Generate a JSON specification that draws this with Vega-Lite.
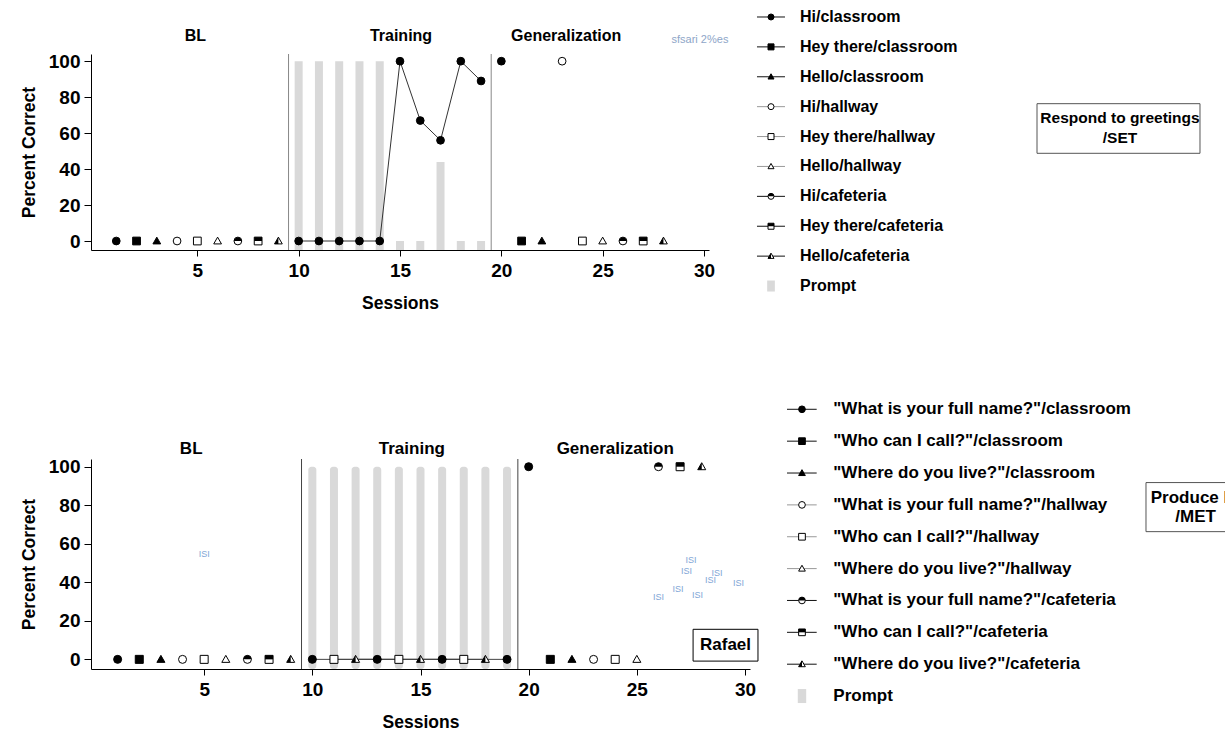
{
  "$schema": "https://vega.github.io/schema/vega-lite/v6.json",
  "padding": {"left": 20, "top": 8, "right": 0, "bottom": 0},
  "config": {
    "font": "Liberation Sans",
    "view": {"stroke": null},
    "axis": {
      "grid": false,
      "domainColor": "#000",
      "tickColor": "#000",
      "labelColor": "#000",
      "titleColor": "#000",
      "labelFontWeight": "bold",
      "titleFontWeight": "bold",
      "labelFont": "Liberation Sans",
      "titleFont": "Liberation Sans",
      "labelOverlap": false
    },
    "text": {"fontWeight": "bold", "color": "#000", "font": "Liberation Sans"}
  },
  "datasets": {
    "greet": [
      {"session": 1, "pct": 0, "target": "Hi", "setting": "classroom", "phase": "BL"},
      {"session": 2, "pct": 0, "target": "Hey there", "setting": "classroom", "phase": "BL"},
      {"session": 3, "pct": 0, "target": "Hello", "setting": "classroom", "phase": "BL"},
      {"session": 4, "pct": 0, "target": "Hi", "setting": "hallway", "phase": "BL"},
      {"session": 5, "pct": 0, "target": "Hey there", "setting": "hallway", "phase": "BL"},
      {"session": 6, "pct": 0, "target": "Hello", "setting": "hallway", "phase": "BL"},
      {"session": 7, "pct": 0, "target": "Hi", "setting": "cafeteria", "phase": "BL"},
      {"session": 8, "pct": 0, "target": "Hey there", "setting": "cafeteria", "phase": "BL"},
      {"session": 9, "pct": 0, "target": "Hello", "setting": "cafeteria", "phase": "BL"},
      {"session": 10, "pct": 0, "target": "Hi", "setting": "classroom", "phase": "Training"},
      {"session": 11, "pct": 0, "target": "Hi", "setting": "classroom", "phase": "Training"},
      {"session": 12, "pct": 0, "target": "Hi", "setting": "classroom", "phase": "Training"},
      {"session": 13, "pct": 0, "target": "Hi", "setting": "classroom", "phase": "Training"},
      {"session": 14, "pct": 0, "target": "Hi", "setting": "classroom", "phase": "Training"},
      {"session": 15, "pct": 100, "target": "Hi", "setting": "classroom", "phase": "Training"},
      {"session": 16, "pct": 67, "target": "Hi", "setting": "classroom", "phase": "Training"},
      {"session": 17, "pct": 56, "target": "Hi", "setting": "classroom", "phase": "Training"},
      {"session": 18, "pct": 100, "target": "Hi", "setting": "classroom", "phase": "Training"},
      {"session": 19, "pct": 89, "target": "Hi", "setting": "classroom", "phase": "Training"},
      {"session": 20, "pct": 100, "target": "Hi", "setting": "classroom", "phase": "Generalization"},
      {"session": 21, "pct": 0, "target": "Hey there", "setting": "classroom", "phase": "Generalization"},
      {"session": 22, "pct": 0, "target": "Hello", "setting": "classroom", "phase": "Generalization"},
      {"session": 23, "pct": 100, "target": "Hi", "setting": "hallway", "phase": "Generalization"},
      {"session": 24, "pct": 0, "target": "Hey there", "setting": "hallway", "phase": "Generalization"},
      {"session": 25, "pct": 0, "target": "Hello", "setting": "hallway", "phase": "Generalization"},
      {"session": 26, "pct": 0, "target": "Hi", "setting": "cafeteria", "phase": "Generalization"},
      {"session": 27, "pct": 0, "target": "Hey there", "setting": "cafeteria", "phase": "Generalization"},
      {"session": 28, "pct": 0, "target": "Hello", "setting": "cafeteria", "phase": "Generalization"}
    ],
    "greetPrompt": [
      {"session": 10, "pct": 100}, {"session": 11, "pct": 100}, {"session": 12, "pct": 100},
      {"session": 13, "pct": 100}, {"session": 14, "pct": 100}, {"session": 15, "pct": 0},
      {"session": 16, "pct": 0}, {"session": 17, "pct": 44}, {"session": 18, "pct": 0},
      {"session": 19, "pct": 0}
    ],
    "greetPhases": [
      {"phase": "BL", "mid": 4.9},
      {"phase": "Training", "mid": 15.05},
      {"phase": "Generalization", "mid": 23.2}
    ],
    "greetKey": [
      {"row": 1, "target": "Hi", "setting": "classroom", "label": "Hi/classroom"},
      {"row": 2, "target": "Hey there", "setting": "classroom", "label": "Hey there/classroom"},
      {"row": 3, "target": "Hello", "setting": "classroom", "label": "Hello/classroom"},
      {"row": 4, "target": "Hi", "setting": "hallway", "label": "Hi/hallway"},
      {"row": 5, "target": "Hey there", "setting": "hallway", "label": "Hey there/hallway"},
      {"row": 6, "target": "Hello", "setting": "hallway", "label": "Hello/hallway"},
      {"row": 7, "target": "Hi", "setting": "cafeteria", "label": "Hi/cafeteria"},
      {"row": 8, "target": "Hey there", "setting": "cafeteria", "label": "Hey there/cafeteria"},
      {"row": 9, "target": "Hello", "setting": "cafeteria", "label": "Hello/cafeteria"},
      {"row": 10, "label": "Prompt"}
    ],
    "id": [
      {"session": 1, "pct": 0, "target": "\"What is your full name?\"", "setting": "classroom", "phase": "BL"},
      {"session": 2, "pct": 0, "target": "\"Who can I call?\"", "setting": "classroom", "phase": "BL"},
      {"session": 3, "pct": 0, "target": "\"Where do you live?\"", "setting": "classroom", "phase": "BL"},
      {"session": 4, "pct": 0, "target": "\"What is your full name?\"", "setting": "hallway", "phase": "BL"},
      {"session": 5, "pct": 0, "target": "\"Who can I call?\"", "setting": "hallway", "phase": "BL"},
      {"session": 6, "pct": 0, "target": "\"Where do you live?\"", "setting": "hallway", "phase": "BL"},
      {"session": 7, "pct": 0, "target": "\"What is your full name?\"", "setting": "cafeteria", "phase": "BL"},
      {"session": 8, "pct": 0, "target": "\"Who can I call?\"", "setting": "cafeteria", "phase": "BL"},
      {"session": 9, "pct": 0, "target": "\"Where do you live?\"", "setting": "cafeteria", "phase": "BL"},
      {"session": 10, "pct": 0, "target": "\"What is your full name?\"", "setting": "classroom", "phase": "Training"},
      {"session": 11, "pct": 0, "target": "\"Who can I call?\"", "setting": "hallway", "phase": "Training"},
      {"session": 12, "pct": 0, "target": "\"Where do you live?\"", "setting": "cafeteria", "phase": "Training"},
      {"session": 13, "pct": 0, "target": "\"What is your full name?\"", "setting": "classroom", "phase": "Training"},
      {"session": 14, "pct": 0, "target": "\"Who can I call?\"", "setting": "hallway", "phase": "Training"},
      {"session": 15, "pct": 0, "target": "\"Where do you live?\"", "setting": "cafeteria", "phase": "Training"},
      {"session": 16, "pct": 0, "target": "\"What is your full name?\"", "setting": "classroom", "phase": "Training"},
      {"session": 17, "pct": 0, "target": "\"Who can I call?\"", "setting": "hallway", "phase": "Training"},
      {"session": 18, "pct": 0, "target": "\"Where do you live?\"", "setting": "cafeteria", "phase": "Training"},
      {"session": 19, "pct": 0, "target": "\"What is your full name?\"", "setting": "classroom", "phase": "Training"},
      {"session": 20, "pct": 100, "target": "\"What is your full name?\"", "setting": "classroom", "phase": "Generalization"},
      {"session": 21, "pct": 0, "target": "\"Who can I call?\"", "setting": "classroom", "phase": "Generalization"},
      {"session": 22, "pct": 0, "target": "\"Where do you live?\"", "setting": "classroom", "phase": "Generalization"},
      {"session": 23, "pct": 0, "target": "\"What is your full name?\"", "setting": "hallway", "phase": "Generalization"},
      {"session": 24, "pct": 0, "target": "\"Who can I call?\"", "setting": "hallway", "phase": "Generalization"},
      {"session": 25, "pct": 0, "target": "\"Where do you live?\"", "setting": "hallway", "phase": "Generalization"},
      {"session": 26, "pct": 100, "target": "\"What is your full name?\"", "setting": "cafeteria", "phase": "Generalization"},
      {"session": 27, "pct": 100, "target": "\"Who can I call?\"", "setting": "cafeteria", "phase": "Generalization"},
      {"session": 28, "pct": 100, "target": "\"Where do you live?\"", "setting": "cafeteria", "phase": "Generalization"}
    ],
    "idPrompt": [
      {"session": 10, "pct": 100}, {"session": 11, "pct": 100}, {"session": 12, "pct": 100},
      {"session": 13, "pct": 100}, {"session": 14, "pct": 100}, {"session": 15, "pct": 100},
      {"session": 16, "pct": 100}, {"session": 17, "pct": 100}, {"session": 18, "pct": 100},
      {"session": 19, "pct": 100}
    ],
    "idPhases": [
      {"phase": "BL", "mid": 4.4},
      {"phase": "Training", "mid": 14.6},
      {"phase": "Generalization", "mid": 24.0}
    ],
    "idNotes": [
      {"session": 5.0, "pct": 54.6, "note": "ISI"},
      {"session": 27.5, "pct": 51.5, "note": "ISI"},
      {"session": 27.3, "pct": 46.0, "note": "ISI"},
      {"session": 28.7, "pct": 45.0, "note": "ISI"},
      {"session": 28.4, "pct": 41.3, "note": "ISI"},
      {"session": 29.7, "pct": 39.6, "note": "ISI"},
      {"session": 26.9, "pct": 36.5, "note": "ISI"},
      {"session": 27.8, "pct": 33.4, "note": "ISI"},
      {"session": 26.0, "pct": 32.3, "note": "ISI"}
    ],
    "idKey": [
      {"row": 1, "target": "\"What is your full name?\"", "setting": "classroom", "label": "\"What is your full name?\"/classroom"},
      {"row": 2, "target": "\"Who can I call?\"", "setting": "classroom", "label": "\"Who can I call?\"/classroom"},
      {"row": 3, "target": "\"Where do you live?\"", "setting": "classroom", "label": "\"Where do you live?\"/classroom"},
      {"row": 4, "target": "\"What is your full name?\"", "setting": "hallway", "label": "\"What is your full name?\"/hallway"},
      {"row": 5, "target": "\"Who can I call?\"", "setting": "hallway", "label": "\"Who can I call?\"/hallway"},
      {"row": 6, "target": "\"Where do you live?\"", "setting": "hallway", "label": "\"Where do you live?\"/hallway"},
      {"row": 7, "target": "\"What is your full name?\"", "setting": "cafeteria", "label": "\"What is your full name?\"/cafeteria"},
      {"row": 8, "target": "\"Who can I call?\"", "setting": "cafeteria", "label": "\"Who can I call?\"/cafeteria"},
      {"row": 9, "target": "\"Where do you live?\"", "setting": "cafeteria", "label": "\"Where do you live?\"/cafeteria"},
      {"row": 10, "label": "Prompt"}
    ]
  },
  "columns": 2,
  "align": "none",
  "bounds": "flush",
  "spacing": {"row": 209, "column": 37},
  "concat": [
    {
      "width": 618,
      "height": 196,
      "resolve": {"scale": {"shape": "independent"}},
      "layer": [
        {
          "data": {"name": "greetPrompt"},
          "mark": {"type": "bar", "width": 8, "color": "#d9d9d9"},
          "encoding": {
            "x": {
              "field": "session", "type": "quantitative",
              "scale": {"domain": [0, 30], "nice": false, "zero": false},
              "axis": {"values": [5, 10, 15, 20, 25, 30], "tickCount": 12, "title": "Sessions", "labelFontSize": 19, "titleFontSize": 17.5, "tickSize": 6, "labelPadding": 5, "titlePadding": 14, "labelFlush": false, "labelOverlap": false}
            },
            "y": {
              "field": "pct", "type": "quantitative",
              "scale": {"domain": [-5, 104], "nice": false, "zero": false},
              "axis": {"values": [0, 20, 40, 60, 80, 100], "tickCount": 12, "title": "Percent Correct", "labelFontSize": 19, "titleFontSize": 17.5, "tickSize": 7, "labelPadding": 4, "titlePadding": 10, "labelOverlap": false}
            },
            "y2": {"datum": -5}
          }
        },
        {
          "data": {"values": [{"change": 9.5}, {"change": 19.5}]},
          "mark": {"type": "rule", "color": "#888", "strokeWidth": 1},
          "encoding": {"x": {"field": "change", "type": "quantitative"}, "y": {"datum": -5}, "y2": {"datum": 104}}
        },
        {
          "data": {"name": "greet"},
          "transform": [{"filter": {"field": "phase", "equal": "Training"}}],
          "mark": {"type": "line", "color": "#333", "strokeWidth": 1},
          "encoding": {
            "x": {"field": "session", "type": "quantitative"},
            "y": {"field": "pct", "type": "quantitative"},
            "detail": [{"field": "target", "type": "nominal"}, {"field": "setting", "type": "nominal"}]
          }
        },
        {
          "data": {"name": "greet"},
          "mark": {"type": "point", "opacity": 1, "size": 60, "strokeWidth": 1, "stroke": "#000"},
          "encoding": {
            "x": {"field": "session", "type": "quantitative"},
            "y": {"field": "pct", "type": "quantitative"},
            "shape": {"field": "target", "type": "nominal", "legend": null,
              "scale": {"domain": ["Hi", "Hey there", "Hello", "\"What is your full name?\"", "\"Who can I call?\"", "\"Where do you live?\""],
                        "range": ["circle", "square", "M0,-1L1,0.75L-1,0.75Z", "circle", "square", "M0,-1L1,0.75L-1,0.75Z"]}},
            "fill": {"field": "setting", "type": "nominal", "legend": null,
              "scale": {"domain": ["classroom", "hallway", "cafeteria"], "range": ["#000", "#fff", "#fff"]}}
          }
        },
        {
          "data": {"name": "greet"},
          "transform": [{"filter": {"field": "setting", "equal": "cafeteria"}}],
          "mark": {"type": "point", "filled": true, "opacity": 1, "size": 60, "strokeWidth": 0, "color": "#000"},
          "encoding": {
            "x": {"field": "session", "type": "quantitative"},
            "y": {"field": "pct", "type": "quantitative"},
            "shape": {"field": "target", "type": "nominal", "legend": null,
              "scale": {"domain": ["Hi", "Hey there", "Hello", "\"What is your full name?\"", "\"Who can I call?\"", "\"Where do you live?\""],
                        "range": ["M-1,0A1,1,0,0,1,1,0Z", "M-1,-1L1,-1L1,0L-1,0Z", "M0,-1L0,0.75L-1,0.75Z", "M-1,0A1,1,0,0,1,1,0Z", "M-1,-1L1,-1L1,0L-1,0Z", "M0,-1L0,0.75L-1,0.75Z"]}}
          }
        },
        {
          "data": {"name": "greetPhases"},
          "mark": {"type": "text", "fontSize": 16, "baseline": "middle"},
          "encoding": {"x": {"field": "mid", "type": "quantitative"}, "y": {"datum": 114}, "text": {"field": "phase"}}
        },
        {
          "data": {"values": [{"note": "sfsari 2%es"}]},
          "mark": {"type": "text", "fontSize": 11, "fontWeight": "normal", "color": "#8ea6c8", "baseline": "middle"},
          "encoding": {"x": {"datum": 29.8}, "y": {"datum": 112}, "text": {"field": "note"}}
        }
      ]
    },
    {
      "width": 438,
      "height": 196,
      "data": {"name": "greetKey"},
      "resolve": {"scale": {"shape": "independent"}},
      "layer": [
        {
          "transform": [{"filter": "isValid(datum.setting)"}],
          "mark": {"type": "rule", "strokeWidth": 1},
          "encoding": {
            "x": {"datum": -6.85, "type": "quantitative", "scale": {"domain": [0, 100], "nice": false, "zero": false}, "axis": null},
            "x2": {"datum": -0.46},
            "y": {"field": "row", "type": "quantitative", "scale": {"domain": [2.238, 8.795], "reverse": true, "nice": false, "zero": false}, "axis": null},
            "stroke": {"field": "setting", "type": "nominal", "legend": null,
              "scale": {"domain": ["classroom", "hallway", "cafeteria"], "range": ["#111", "#999", "#111"]}}
          }
        },
        {
          "transform": [{"filter": "isValid(datum.setting)"}],
          "mark": {"type": "point", "opacity": 1, "size": 36, "strokeWidth": 1, "stroke": "#000"},
          "encoding": {
            "x": {"datum": -3.65, "type": "quantitative", "axis": null},
            "y": {"field": "row", "type": "quantitative", "axis": null},
            "shape": {"field": "target", "type": "nominal", "legend": null,
              "scale": {"domain": ["Hi", "Hey there", "Hello", "\"What is your full name?\"", "\"Who can I call?\"", "\"Where do you live?\""],
                        "range": ["circle", "square", "M0,-1L1,0.75L-1,0.75Z", "circle", "square", "M0,-1L1,0.75L-1,0.75Z"]}},
            "fill": {"field": "setting", "type": "nominal", "legend": null,
              "scale": {"domain": ["classroom", "hallway", "cafeteria"], "range": ["#000", "#fff", "#fff"]}}
          }
        },
        {
          "transform": [{"filter": {"field": "setting", "equal": "cafeteria"}}],
          "mark": {"type": "point", "filled": true, "opacity": 1, "size": 36, "strokeWidth": 0, "color": "#000"},
          "encoding": {
            "x": {"datum": -3.65, "type": "quantitative", "axis": null},
            "y": {"field": "row", "type": "quantitative", "axis": null},
            "shape": {"field": "target", "type": "nominal", "legend": null,
              "scale": {"domain": ["Hi", "Hey there", "Hello", "\"What is your full name?\"", "\"Who can I call?\"", "\"Where do you live?\""],
                        "range": ["M-1,0A1,1,0,0,1,1,0Z", "M-1,-1L1,-1L1,0L-1,0Z", "M0,-1L0,0.75L-1,0.75Z", "M-1,0A1,1,0,0,1,1,0Z", "M-1,-1L1,-1L1,0L-1,0Z", "M0,-1L0,0.75L-1,0.75Z"]}}
          }
        },
        {
          "transform": [{"filter": {"field": "label", "equal": "Prompt"}}],
          "mark": {"type": "point", "shape": "M-0.7,-1L0.7,-1L0.7,1L-0.7,1Z", "filled": true, "opacity": 1, "size": 121, "strokeWidth": 0, "color": "#d9d9d9"},
          "encoding": {
            "x": {"datum": -3.65, "type": "quantitative", "axis": null},
            "y": {"field": "row", "type": "quantitative", "axis": null}
          }
        },
        {
          "mark": {"type": "text", "align": "left", "baseline": "middle", "fontSize": 16},
          "encoding": {
            "x": {"datum": 2.97, "type": "quantitative", "axis": null},
            "y": {"field": "row", "type": "quantitative", "axis": null},
            "text": {"field": "label"}
          }
        },
        {
          "data": {"values": [{"note": "Respond to greetings"}]},
          "mark": {"type": "rect", "fill": "#fff", "stroke": "#555", "strokeWidth": 1},
          "encoding": {
            "x": {"datum": 57.08, "type": "quantitative", "axis": null},
            "x2": {"datum": 94.29},
            "y": {"datum": 3.9, "type": "quantitative", "axis": null},
            "y2": {"datum": 5.56}
          }
        },
        {
          "data": {"values": [{"note": "Respond to greetings"}]},
          "mark": {"type": "text", "align": "center", "baseline": "middle", "fontSize": 15.5, "lineHeight": 20},
          "encoding": {
            "x": {"datum": 76.03, "type": "quantitative", "axis": null},
            "y": {"datum": 4.369, "type": "quantitative", "axis": null},
            "text": {"value": ["Respond to greetings", "/SET"]}
          }
        }
      ]
    },
    {
      "width": 659,
      "height": 210,
      "resolve": {"scale": {"shape": "independent"}},
      "layer": [
        {
          "data": {"name": "idPrompt"},
          "mark": {"type": "bar", "width": 8, "color": "#d9d9d9", "cornerRadius": 3},
          "encoding": {
            "x": {
              "field": "session", "type": "quantitative",
              "scale": {"domain": [0, 30], "nice": false, "zero": false},
              "axis": {"values": [5, 10, 15, 20, 25, 30], "tickCount": 12, "title": "Sessions", "labelFontSize": 19, "titleFontSize": 17.5, "tickSize": 6, "labelPadding": 5, "titlePadding": 14, "labelFlush": false, "labelOverlap": false}
            },
            "y": {
              "field": "pct", "type": "quantitative",
              "scale": {"domain": [-5, 104], "nice": false, "zero": false},
              "axis": {"values": [0, 20, 40, 60, 80, 100], "tickCount": 12, "title": "Percent Correct", "labelFontSize": 19, "titleFontSize": 17.5, "tickSize": 7, "labelPadding": 4, "titlePadding": 10, "labelOverlap": false}
            },
            "y2": {"datum": -5}
          }
        },
        {
          "data": {"values": [{"change": 9.5}, {"change": 19.5}]},
          "mark": {"type": "rule", "color": "#444", "strokeWidth": 1},
          "encoding": {"x": {"field": "change", "type": "quantitative"}, "y": {"datum": -5}, "y2": {"datum": 104}}
        },
        {
          "data": {"name": "id"},
          "transform": [{"filter": {"field": "phase", "equal": "Training"}}],
          "mark": {"type": "line", "color": "#444", "strokeWidth": 1},
          "encoding": {
            "x": {"field": "session", "type": "quantitative"},
            "y": {"field": "pct", "type": "quantitative"},
            "detail": [{"field": "target", "type": "nominal"}, {"field": "setting", "type": "nominal"}]
          }
        },
        {
          "data": {"name": "id"},
          "mark": {"type": "point", "opacity": 1, "size": 64, "strokeWidth": 1, "stroke": "#000"},
          "encoding": {
            "x": {"field": "session", "type": "quantitative"},
            "y": {"field": "pct", "type": "quantitative"},
            "shape": {"field": "target", "type": "nominal", "legend": null,
              "scale": {"domain": ["Hi", "Hey there", "Hello", "\"What is your full name?\"", "\"Who can I call?\"", "\"Where do you live?\""],
                        "range": ["circle", "square", "M0,-1L1,0.75L-1,0.75Z", "circle", "square", "M0,-1L1,0.75L-1,0.75Z"]}},
            "fill": {"field": "setting", "type": "nominal", "legend": null,
              "scale": {"domain": ["classroom", "hallway", "cafeteria"], "range": ["#000", "#fff", "#fff"]}}
          }
        },
        {
          "data": {"name": "id"},
          "transform": [{"filter": {"field": "setting", "equal": "cafeteria"}}],
          "mark": {"type": "point", "filled": true, "opacity": 1, "size": 64, "strokeWidth": 0, "color": "#000"},
          "encoding": {
            "x": {"field": "session", "type": "quantitative"},
            "y": {"field": "pct", "type": "quantitative"},
            "shape": {"field": "target", "type": "nominal", "legend": null,
              "scale": {"domain": ["Hi", "Hey there", "Hello", "\"What is your full name?\"", "\"Who can I call?\"", "\"Where do you live?\""],
                        "range": ["M-1,0A1,1,0,0,1,1,0Z", "M-1,-1L1,-1L1,0L-1,0Z", "M0,-1L0,0.75L-1,0.75Z", "M-1,0A1,1,0,0,1,1,0Z", "M-1,-1L1,-1L1,0L-1,0Z", "M0,-1L0,0.75L-1,0.75Z"]}}
          }
        },
        {
          "data": {"name": "idPhases"},
          "mark": {"type": "text", "fontSize": 17, "baseline": "middle"},
          "encoding": {"x": {"field": "mid", "type": "quantitative"}, "y": {"datum": 109.2}, "text": {"field": "phase"}}
        },
        {
          "data": {"name": "idNotes"},
          "mark": {"type": "text", "fontSize": 9, "fontWeight": "normal", "color": "#7fa6d6", "baseline": "middle"},
          "encoding": {
            "x": {"field": "session", "type": "quantitative"},
            "y": {"field": "pct", "type": "quantitative"},
            "text": {"field": "note"}
          }
        },
        {
          "data": {"values": [{"name": "Rafael"}]},
          "mark": {"type": "rect", "fill": "#fff", "stroke": "#000", "strokeWidth": 1},
          "encoding": {"x": {"datum": 27.6}, "x2": {"datum": 30.6}, "y": {"datum": 15.6}, "y2": {"datum": -0.9}}
        },
        {
          "data": {"values": [{"name": "Rafael"}]},
          "mark": {"type": "text", "fontSize": 17, "baseline": "middle"},
          "encoding": {"x": {"datum": 29.1}, "y": {"datum": 7.3}, "text": {"field": "name"}}
        }
      ]
    },
    {
      "width": 438,
      "height": 210,
      "data": {"name": "idKey"},
      "resolve": {"scale": {"shape": "independent"}},
      "layer": [
        {
          "transform": [{"filter": "isValid(datum.setting)"}],
          "mark": {"type": "rule", "strokeWidth": 1},
          "encoding": {
            "x": {"datum": 0, "type": "quantitative", "scale": {"domain": [0, 100], "nice": false, "zero": false}, "axis": null},
            "x2": {"datum": 6.78},
            "y": {"field": "row", "type": "quantitative", "scale": {"domain": [2.56, 9.151], "reverse": true, "nice": false, "zero": false}, "axis": null},
            "stroke": {"field": "setting", "type": "nominal", "legend": null,
              "scale": {"domain": ["classroom", "hallway", "cafeteria"], "range": ["#111", "#999", "#111"]}}
          }
        },
        {
          "transform": [{"filter": "isValid(datum.setting)"}],
          "mark": {"type": "point", "opacity": 1, "size": 45, "strokeWidth": 1, "stroke": "#000"},
          "encoding": {
            "x": {"datum": 3.42, "type": "quantitative", "axis": null},
            "y": {"field": "row", "type": "quantitative", "axis": null},
            "shape": {"field": "target", "type": "nominal", "legend": null,
              "scale": {"domain": ["Hi", "Hey there", "Hello", "\"What is your full name?\"", "\"Who can I call?\"", "\"Where do you live?\""],
                        "range": ["circle", "square", "M0,-1L1,0.75L-1,0.75Z", "circle", "square", "M0,-1L1,0.75L-1,0.75Z"]}},
            "fill": {"field": "setting", "type": "nominal", "legend": null,
              "scale": {"domain": ["classroom", "hallway", "cafeteria"], "range": ["#000", "#fff", "#fff"]}}
          }
        },
        {
          "transform": [{"filter": {"field": "setting", "equal": "cafeteria"}}],
          "mark": {"type": "point", "filled": true, "opacity": 1, "size": 45, "strokeWidth": 0, "color": "#000"},
          "encoding": {
            "x": {"datum": 3.42, "type": "quantitative", "axis": null},
            "y": {"field": "row", "type": "quantitative", "axis": null},
            "shape": {"field": "target", "type": "nominal", "legend": null,
              "scale": {"domain": ["Hi", "Hey there", "Hello", "\"What is your full name?\"", "\"Who can I call?\"", "\"Where do you live?\""],
                        "range": ["M-1,0A1,1,0,0,1,1,0Z", "M-1,-1L1,-1L1,0L-1,0Z", "M0,-1L0,0.75L-1,0.75Z", "M-1,0A1,1,0,0,1,1,0Z", "M-1,-1L1,-1L1,0L-1,0Z", "M0,-1L0,0.75L-1,0.75Z"]}}
          }
        },
        {
          "transform": [{"filter": {"field": "label", "equal": "Prompt"}}],
          "mark": {"type": "point", "shape": "M-0.6,-1L0.6,-1L0.6,1L-0.6,1Z", "filled": true, "opacity": 1, "size": 196, "strokeWidth": 0, "color": "#d9d9d9"},
          "encoding": {
            "x": {"datum": 3.42, "type": "quantitative", "axis": null},
            "y": {"field": "row", "type": "quantitative", "axis": null}
          }
        },
        {
          "mark": {"type": "text", "align": "left", "baseline": "middle", "fontSize": 17},
          "encoding": {
            "x": {"datum": 10.57, "type": "quantitative", "axis": null},
            "y": {"field": "row", "type": "quantitative", "axis": null},
            "text": {"field": "label"}
          }
        },
        {
          "data": {"values": [{"note": "Produce ID"}]},
          "mark": {"type": "rect", "fill": "#fff", "stroke": "#555", "strokeWidth": 1, "clip": true},
          "encoding": {
            "x": {"datum": 81.96, "type": "quantitative", "axis": null},
            "x2": {"datum": 104.6},
            "y": {"datum": 3.3, "type": "quantitative", "axis": null},
            "y2": {"datum": 4.84}
          }
        },
        {
          "data": {"values": [{"note": "Produce ID"}]},
          "mark": {"type": "text", "align": "center", "baseline": "middle", "fontSize": 17, "lineHeight": 19, "clip": true},
          "encoding": {
            "x": {"datum": 93.3, "type": "quantitative", "axis": null},
            "y": {"datum": 3.775, "type": "quantitative", "axis": null},
            "text": {"value": ["Produce ID", "/MET"]}
          }
        }
      ]
    }
  ]
}
